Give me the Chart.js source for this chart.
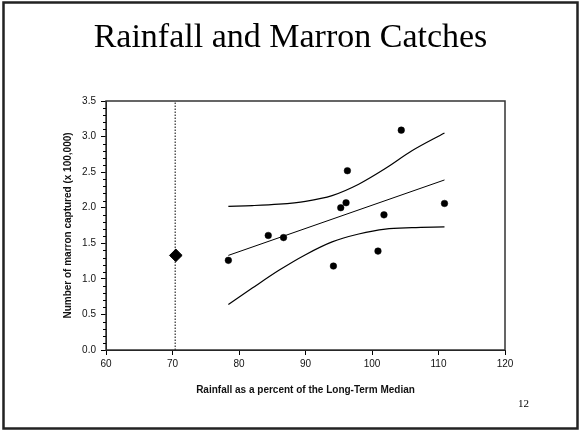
<!DOCTYPE html>
<html><head><meta charset="utf-8">
<script src="https://cdn.jsdelivr.net/npm/chart.js@4"></script>
<style>html,body{margin:0;padding:0;background:#fff;}#wrap{width:581px;height:431px;position:relative;}</style>
</head><body><div id="wrap"><canvas id="c" width="581" height="431"></canvas></div>
<script>
// ---- data ----
const rainfall = [78.4, 84.4, 86.7, 94.2, 95.3, 96.1, 96.3, 100.9, 101.8, 104.4, 110.9];
const catches  = [1.26, 1.61, 1.58, 1.18, 2.00, 2.07, 2.52, 1.39, 1.90, 3.09, 2.06];
const predRain = [70.5];
const predCatch = [1.33];
const markerX = [70.4, 70.4];
const markerY = [0, 3.5];
const fitX = [78.4, 110.9];
const fitY = [1.33, 2.39];
const bandX  = [78.4, 82, 86, 90, 94, 98, 102, 106, 110.9];
const upperY = [2.02, 2.03, 2.05, 2.09, 2.17, 2.33, 2.55, 2.80, 3.05];
const lowerY = [0.64, 0.87, 1.12, 1.34, 1.52, 1.63, 1.70, 1.72, 1.73];
const xTicks = [60, 70, 80, 90, 100, 110, 120];
const yTicks = [0, 0.5, 1, 1.5, 2, 2.5, 3, 3.5];
const titleText = 'Rainfall and Marron Catches';
const xTitle = 'Rainfall as a percent of the Long-Term Median';
const yTitle = 'Number of marron captured (x 100,000)';
const pageNo = '12';

const pts = (xs, ys) => xs.map((x, i) => ({x: x, y: ys[i]}));
const sans = '"Liberation Sans", Arial, sans-serif';
const serif = '"Liberation Serif", "Times New Roman", serif';

const extras = {
  id: 'extras',
  afterDraw(chart) {
    const ctx = chart.ctx, a = chart.chartArea, ys = chart.scales.y;
    ctx.save();
    // plot frame
    ctx.strokeStyle = '#333'; ctx.lineWidth = 1.5;
    ctx.strokeRect(a.left, a.top, a.right - a.left, a.bottom - a.top);
    // minor y ticks
    ctx.strokeStyle = '#000'; ctx.lineWidth = 1;
    for (let i = 0; i <= 35; i++) {
      if (i % 5 === 0) continue;
      const py = Math.round(ys.getPixelForValue(i / 10)) + 0.5;
      ctx.beginPath(); ctx.moveTo(a.left - 3, py); ctx.lineTo(a.left, py); ctx.stroke();
    }
    // slide border
    ctx.strokeStyle = '#222'; ctx.lineWidth = 2.5;
    ctx.strokeRect(3.5, 2.5, 574, 426);
    // page number
    ctx.fillStyle = '#000'; ctx.font = '11px ' + serif;
    ctx.textAlign = 'center'; ctx.textBaseline = 'middle';
    ctx.fillText(pageNo, 523.5, 404);
    ctx.restore();
  }
};

new Chart(document.getElementById('c'), {
  type: 'scatter',
  data: {
    datasets: [
      {data: pts(markerX, markerY), showLine: true, borderColor: '#000', borderWidth: 1, borderDash: [1.5, 1.5], pointRadius: 0},
      {data: pts(bandX, upperY), showLine: true, borderColor: '#000', borderWidth: 1.2, pointRadius: 0, cubicInterpolationMode: 'monotone'},
      {data: pts(bandX, lowerY), showLine: true, borderColor: '#000', borderWidth: 1.2, pointRadius: 0, cubicInterpolationMode: 'monotone'},
      {data: pts(fitX, fitY), showLine: true, borderColor: '#000', borderWidth: 1, pointRadius: 0},
      {data: pts(rainfall, catches), pointRadius: 3.3, pointBackgroundColor: '#000', pointBorderColor: '#000', pointBorderWidth: 0.5},
      {data: pts(predRain, predCatch), pointStyle: 'rectRot', pointRadius: 6.3, pointBackgroundColor: '#000', pointBorderColor: '#000', pointBorderWidth: 1}
    ]
  },
  options: {
    responsive: false, animation: false, devicePixelRatio: 1,
    layout: {padding: 0},
    plugins: {
      legend: {display: false}, tooltip: {enabled: false},
      title: {display: true, text: titleText, color: '#000',
        font: {family: serif, size: 34, weight: 'normal', lineHeight: 1.2},
        padding: {top: 17.4, bottom: 42.8}}
    },
    scales: {
      x: {
        type: 'linear', min: 60, max: 120,
        afterBuildTicks(s) { s.ticks = xTicks.map(v => ({value: v})); },
        ticks: {color: '#111', font: {family: sans, size: 10}, padding: 3, maxRotation: 0, autoSkip: false},
        grid: {drawOnChartArea: false, tickLength: 5, color: '#000'},
        border: {color: '#000', width: 1},
        title: {display: true, text: xTitle, color: '#111', font: {family: sans, size: 10, weight: 'bold', lineHeight: 1.2}, padding: {top: 0, bottom: 35}},
        afterFit(s) { s.height = 81; }
      },
      y: {
        type: 'linear', min: 0, max: 3.5,
        afterBuildTicks(s) { s.ticks = yTicks.map(v => ({value: v})); },
        ticks: {color: '#111', font: {family: sans, size: 10}, padding: 5, autoSkip: false, callback: v => Number(v).toFixed(1)},
        grid: {drawOnChartArea: false, tickLength: 5, color: '#000'},
        border: {color: '#000', width: 1},
        title: {display: true, text: yTitle, color: '#111', font: {family: sans, size: 10, weight: 'bold', lineHeight: 1.2}, padding: {top: 62, bottom: 0}},
        afterFit(s) { s.width = 106; }
      },
      y2: {
        type: 'linear', position: 'right', display: true,
        ticks: {display: false}, grid: {display: false}, border: {display: false},
        afterFit(s) { s.width = 76; }
      }
    }
  },
  plugins: [extras]
});
</script></body></html>
